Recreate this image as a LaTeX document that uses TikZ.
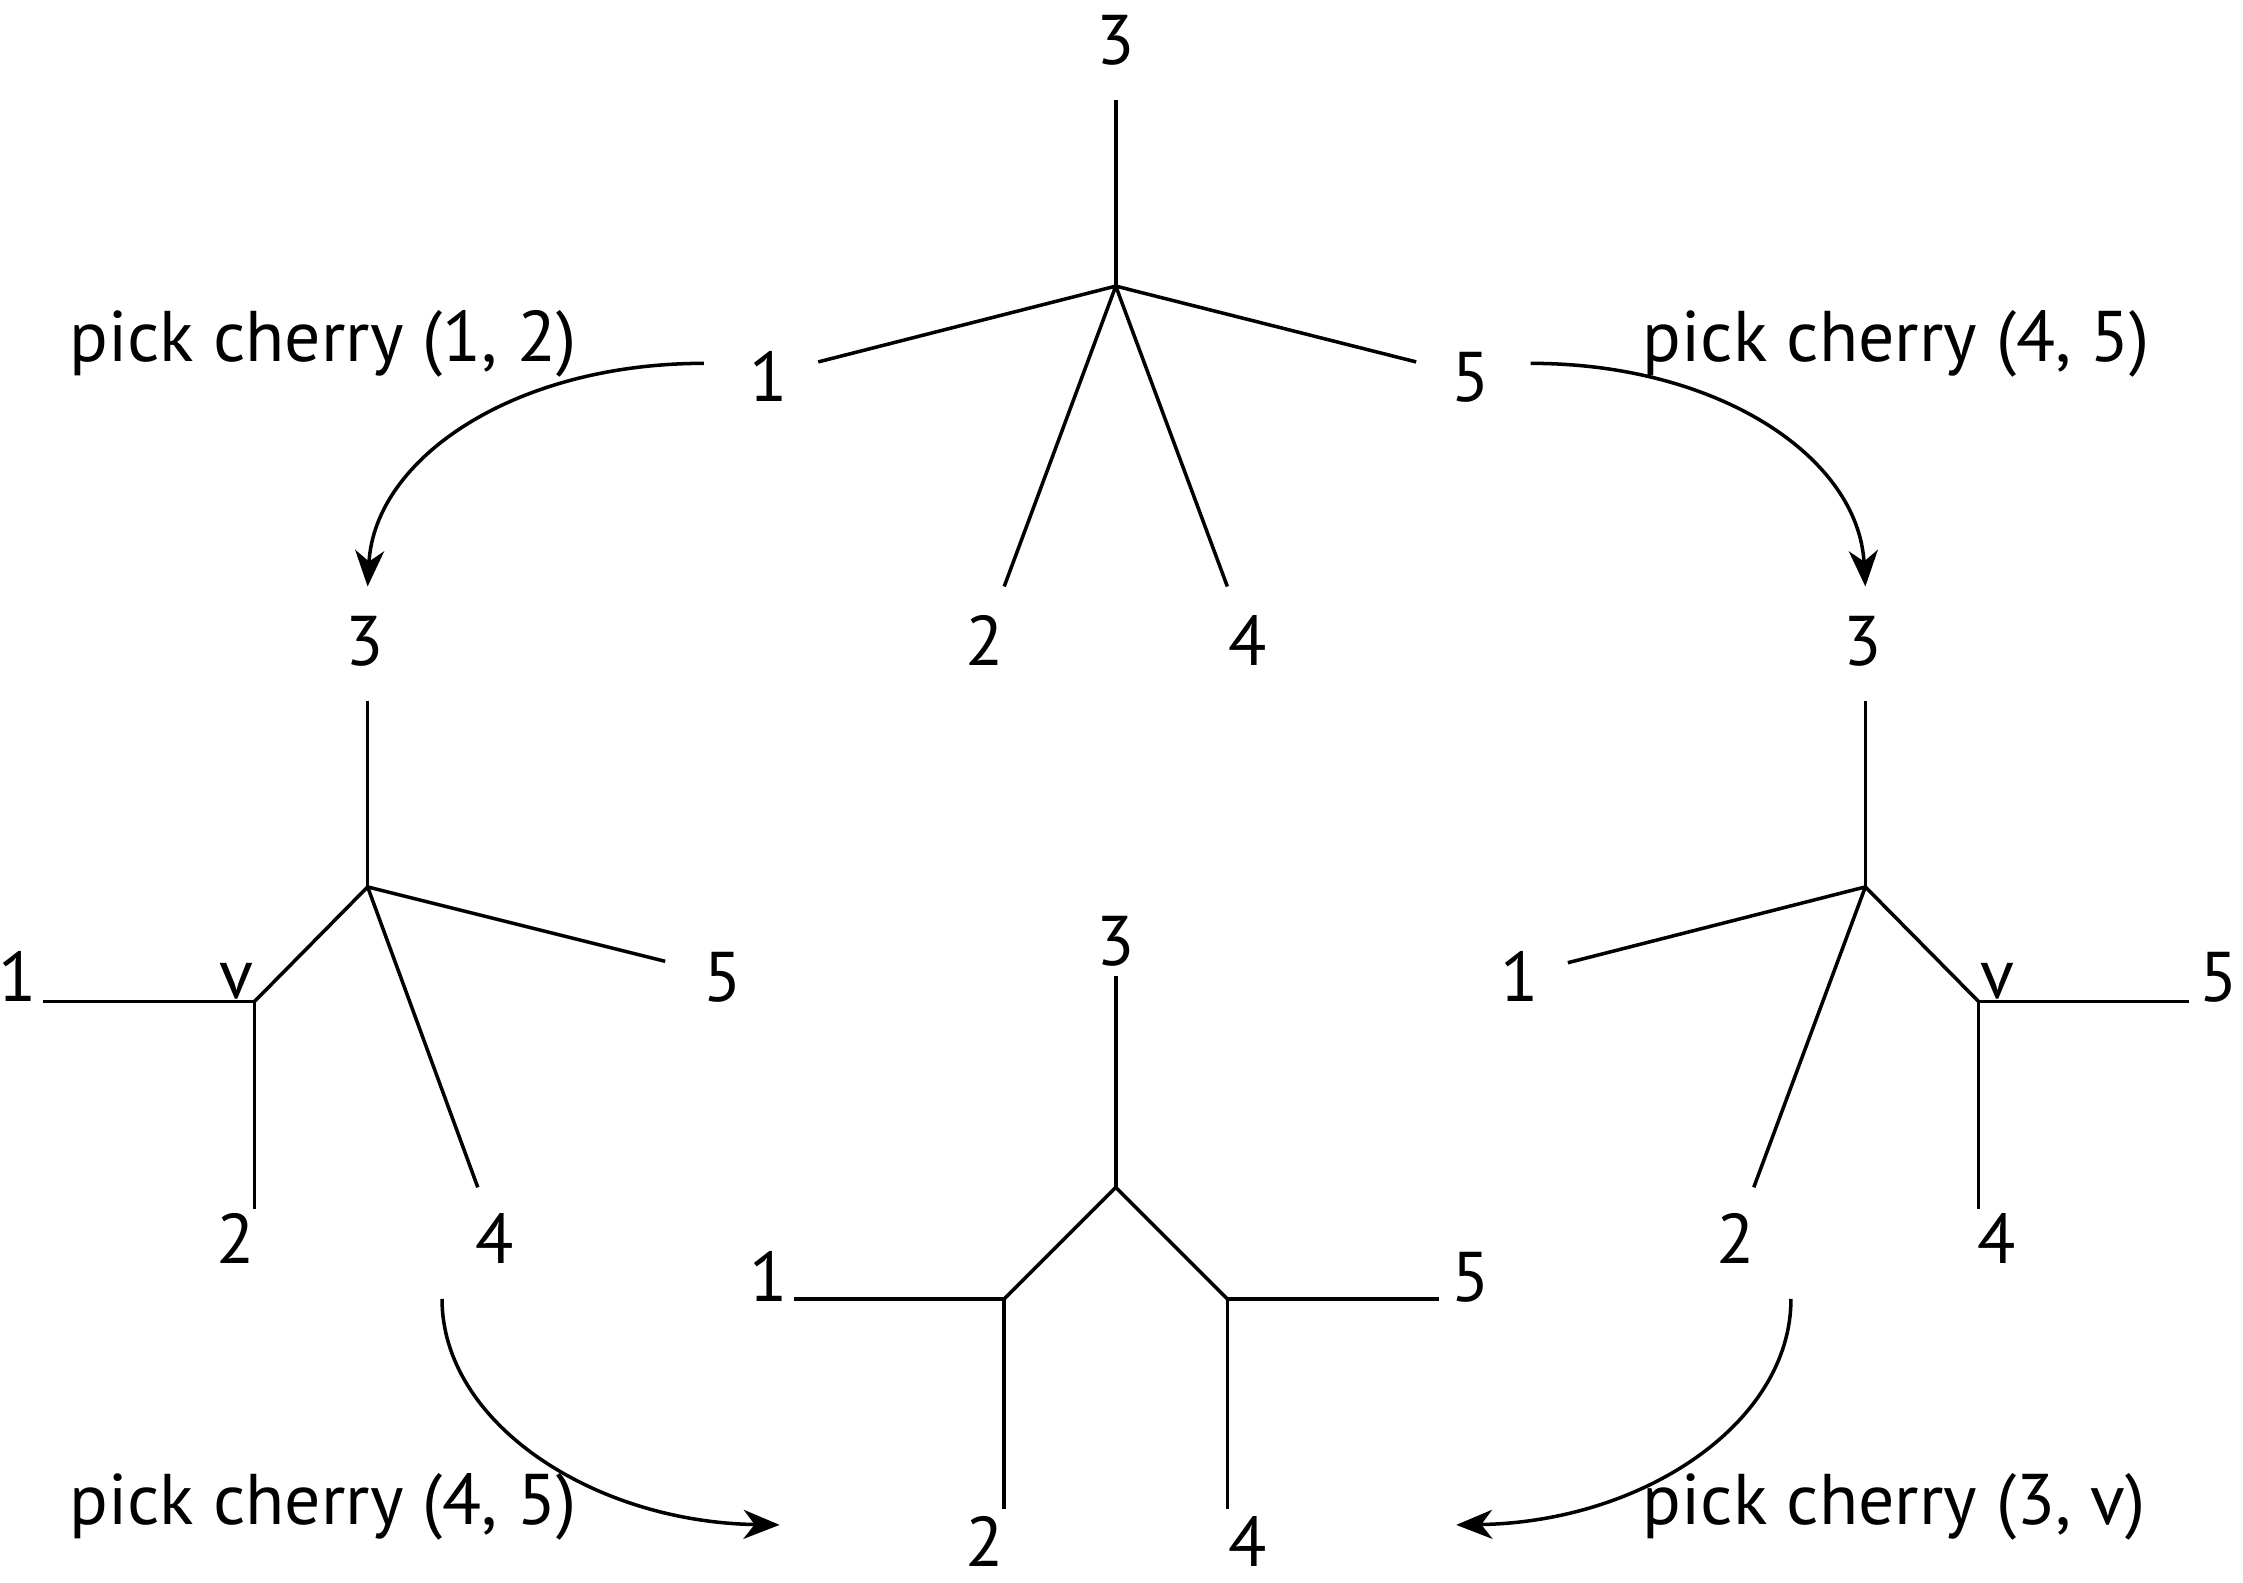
\documentclass[tikz,border=0pt]{standalone}
\usepackage{fontspec}
\setmainfont{PT Sans}
\usetikzlibrary{arrows.meta,positioning}
\tikzset{
  lbl/.style={inner sep=0pt, anchor=base, font=\fontsize{20}{24}\selectfont},
  txt/.style={inner sep=0pt, anchor=base west, font=\fontsize{20.4}{24}\selectfont},
  edge/.style={line width=1pt},
  pick/.style={line width=1pt, -{Stealth[length=3.6mm,width=2.9mm,inset=1.1mm]}}
}
\begin{document}
\begin{tikzpicture}[x=0.0143cm,y=-0.0143cm]
\useasboundingbox (0,0) rectangle (1568,1106);

% top tree
\coordinate (c0) at (780,200);
\coordinate (c0n) at (780,70);
\coordinate (c0w) at (572,253);
\coordinate (c0e) at (990,253);
\coordinate (c0sw) at (702,410);
\coordinate (c0se) at (858,410);
\draw [edge] (c0n) -- (c0);
\draw [edge] (c0) -- (c0w);
\draw [edge] (c0) -- (c0e);
\draw [edge] (c0) -- (c0sw);
\draw [edge] (c0) -- (c0se);
\node [lbl] (t3) at (780,45) {3};
\node [lbl] (t1) at (537,281) {1};
\node [lbl] (t5) at (1028,281) {5};
\node [lbl] (t2) at (688,465) {2};
\node [lbl] (t4) at (872,465) {4};

% left tree
\coordinate (cl) at (257,620);
\coordinate (cln) at (257,490);
\coordinate (cle) at (465,672);
\coordinate (cls) at (334,830);
\coordinate (vl) at (178,700);
\coordinate (vlw) at (30,700);
\coordinate (vls) at (178,845);
\draw [edge] (cln) -- (cl);
\draw [edge] (cl) -- (cle);
\draw [edge] (cl) -- (cls);
\draw [edge] (cl) -- (vl);
\draw [edge] (vlw) -- (vl) -- (vls);
\node [lbl] (l3) at (255,465) {3};
\node [lbl] (l5) at (505,700) {5};
\node [lbl] (l4) at (346,883) {4};
\node [lbl] (lv) at (165,698) {v};
\node [lbl] (l1) at (12,700) {1};
\node [lbl] (l2) at (165,883) {2};

% right tree
\coordinate (cr) at (1304,620);
\coordinate (crn) at (1304,490);
\coordinate (crw) at (1096,673);
\coordinate (crs) at (1226,830);
\coordinate (vr) at (1383,700);
\coordinate (vre) at (1530,700);
\coordinate (vrs) at (1383,845);
\draw [edge] (crn) -- (cr);
\draw [edge] (cr) -- (crw);
\draw [edge] (cr) -- (crs);
\draw [edge] (cr) -- (vr);
\draw [edge] (vre) -- (vr) -- (vrs);
\node [lbl] (r3) at (1302,465) {3};
\node [lbl] (r1) at (1062,700) {1};
\node [lbl] (r2) at (1213,883) {2};
\node [lbl] (rv) at (1396,698) {v};
\node [lbl] (r5) at (1551,700) {5};
\node [lbl] (r4) at (1396,883) {4};

% bottom tree
\coordinate (cb) at (780,830);
\coordinate (cbn) at (780,682);
\coordinate (bl) at (702,908);
\coordinate (br) at (858,908);
\coordinate (blw) at (555,908);
\coordinate (bls) at (702,1055);
\coordinate (bre) at (1006,908);
\coordinate (brs) at (858,1055);
\draw [edge] (cbn) -- (cb);
\draw [edge] (bl) -- (cb) -- (br);
\draw [edge] (blw) -- (bl) -- (bls);
\draw [edge] (bre) -- (br) -- (brs);
\node [lbl] (b3) at (780,675) {3};
\node [lbl] (b1) at (537,910) {1};
\node [lbl] (b5) at (1028,910) {5};
\node [lbl] (b2) at (688,1095) {2};
\node [lbl] (b4) at (872,1095) {4};

% arrows
\coordinate (a1s) at (492,254);
\coordinate (a1e) at (257,410);
\coordinate (a2s) at (1070,254);
\coordinate (a2e) at (1304,410);
\coordinate (a3s) at (309,908);
\coordinate (a3e) at (545,1066);
\coordinate (a4s) at (1252,908);
\coordinate (a4e) at (1018,1066);
\draw [pick] (a1s) .. controls (360,254) and (262,320) .. (a1e);
\draw [pick] (a2s) .. controls (1202,254) and (1299,320) .. (a2e);
\draw [pick] (a3s) .. controls (309,995) and (415,1064) .. (a3e);
\draw [pick] (a4s) .. controls (1252,995) and (1148,1064) .. (a4e);

\node [txt] (p1) at (48,253) {pick cherry (1, 2)};
\node [txt] (p2) at (1148,253) {pick cherry (4, 5)};
\node [txt] (p3) at (48,1066) {pick cherry (4, 5)};
\node [txt] (p4) at (1148,1066) {pick cherry (3, v)};

\end{tikzpicture}
\end{document}
